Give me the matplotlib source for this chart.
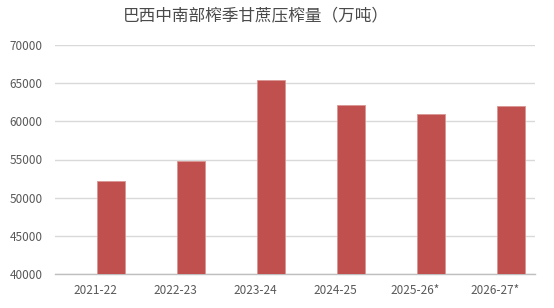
import matplotlib
matplotlib.use("Agg")
from matplotlib import pyplot as plt
import numpy as np

plt.rcParams['font.family'] = ['Noto Sans CJK SC', 'DejaVu Sans']

title = "巴西中南部榨季甘蔗压榨量（万吨）"
seasons = ["2021-22", "2022-23", "2023-24", "2024-25", "2025-26*", "2026-27*"]
crush = [52200, 54800, 65450, 62150, 61000, 61950]
yticks = [40000, 45000, 50000, 55000, 60000, 65000, 70000]

fig = plt.figure(figsize=(5.54, 3.08), dpi=100)
ax = fig.add_axes([55 / 554, 34 / 308, 480 / 554, 229 / 308])

x = np.arange(len(seasons))
ax.bar(x + 0.2, crush, width=0.34, color="#C0504D", edgecolor="#D99694",
       linewidth=0.6, zorder=3)

ax.set_xlim(-0.5, len(seasons) - 0.5)
ax.set_ylim(40000, 70000)
ax.set_yticks(yticks)
ax.set_xticks(x)
ax.set_xticklabels(seasons)
ax.yaxis.grid(True, color="#D9D9D9", linewidth=1)
ax.set_axisbelow(True)

for side in ["top", "right", "left"]:
    ax.spines[side].set_visible(False)
ax.spines["bottom"].set_color("#BFBFBF")
ax.spines["bottom"].set_linewidth(1)
ax.tick_params(axis="both", length=0, labelsize=8.5, colors="#595959")
ax.tick_params(axis="y", pad=9)
ax.tick_params(axis="x", pad=7)

fig.text(256 / 554, 1 - 16 / 308, title, ha="center", va="center",
         fontsize=12, color="#4a4a4a")

fig.savefig("out.png", dpi=100)
